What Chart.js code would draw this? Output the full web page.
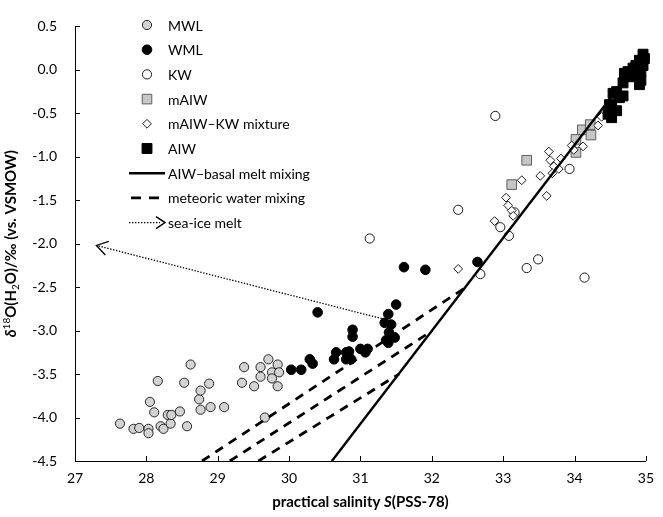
<!DOCTYPE html>
<html>
<head>
<meta charset="utf-8">
<script src="https://cdn.jsdelivr.net/npm/chart.js@4.4.0/dist/chart.umd.min.js"></script>
<style>
  html, body { margin: 0; padding: 0; background: #fff; }
  #wrap { width: 663px; height: 517px; }
</style>
</head>
<body>
<div id="wrap"><canvas id="chart" width="663" height="517"></canvas></div>
<script>
// [salinity, d18O] pairs
const MWL = [
  [27.63, -4.07], [27.82, -4.13], [27.90, -4.12], [28.03, -4.13], [28.03, -4.18],
  [28.05, -3.82], [28.11, -3.94], [28.16, -3.58], [28.20, -4.10], [28.24, -4.13],
  [28.30, -3.97], [28.34, -4.07], [28.35, -3.97], [28.47, -3.93], [28.53, -3.60],
  [28.57, -4.10], [28.62, -3.39], [28.74, -3.79], [28.76, -3.69], [28.76, -3.91],
  [28.88, -3.61], [28.90, -3.88], [29.09, -3.88], [29.34, -3.60], [29.37, -3.42],
  [29.51, -3.64], [29.60, -3.42], [29.60, -3.53], [29.66, -4.00], [29.71, -3.33],
  [29.76, -3.48], [29.76, -3.55], [29.84, -3.39], [29.86, -3.48], [29.84, -3.64]
];
const WML = [
  [30.03, -3.45], [30.17, -3.45], [30.29, -3.33], [30.33, -3.38], [30.40, -2.79],
  [30.63, -3.33], [30.66, -3.25], [30.80, -3.25], [30.84, -3.24], [30.80, -3.33],
  [30.87, -3.33], [30.83, -3.29], [31.00, -3.21], [31.10, -3.21], [31.07, -3.25],
  [30.89, -2.99], [30.89, -3.07], [31.34, -2.91], [31.43, -2.93], [31.40, -3.02],
  [31.42, -3.08], [31.36, -3.11], [31.39, -3.14], [31.48, -3.08], [31.39, -2.81],
  [31.50, -2.70], [31.61, -2.27], [31.91, -2.30], [32.64, -2.21]
];
const KW = [
  [31.13, -1.94], [32.37, -1.61], [32.89, -0.53], [32.68, -2.35], [32.96, -1.81],
  [33.08, -1.91], [33.16, -1.64], [33.33, -2.28], [33.49, -2.18], [34.14, -2.39],
  [33.93, -1.14]
];
const MAIW = [
  [33.12, -1.32], [33.33, -1.04], [34.02, -0.80], [34.02, -0.95], [34.11, -0.69],
  [34.22, -0.63], [34.23, -0.75]
];
const MAIW_KW = [
  [32.37, -2.29], [32.88, -1.74], [33.04, -1.47], [33.07, -1.56], [33.12, -1.62],
  [33.14, -1.68], [33.26, -1.27], [33.52, -1.22], [33.61, -1.45], [33.64, -0.94],
  [33.66, -1.04], [33.81, -1.02], [33.71, -1.11], [33.78, -1.14], [33.69, -1.19],
  [33.96, -0.87], [33.99, -0.92], [34.12, -0.88], [34.33, -0.64], [34.38, -0.54]
];
const AIW = [
  [34.47, -0.51], [34.52, -0.55], [34.49, -0.40], [34.52, -0.43], [34.59, -0.47],
  [34.54, -0.27], [34.59, -0.25], [34.63, -0.32], [34.68, -0.30], [34.68, -0.15],
  [34.70, -0.04], [34.75, -0.02], [34.77, -0.08], [34.82, 0.02], [34.84, -0.06],
  [34.86, 0.05], [34.89, -0.02], [34.91, 0.11], [34.93, -0.02], [34.91, -0.17],
  [34.93, -0.12], [34.96, 0.05], [34.96, 0.18], [34.98, 0.13]
];

// mixing lines
const BASAL_MELT_LINE = [[30.6, -4.5], [34.9, 0.1]];
const METEORIC_LINES = [
  [[28.78, -4.5], [32.48, -2.5]],
  [[29.17, -4.5], [32.01, -3.0]],
  [[29.57, -4.5], [31.54, -3.5]]
];
const SEA_ICE_ARROW = [[31.34, -2.87], [27.30, -2.02]];

const X_MIN = 27, X_MAX = 35, X_STEP = 1;
const Y_MIN = -4.5, Y_MAX = 0.5, Y_STEP = 0.5;

const LEGEND_LABELS = ['MWL', 'WML', 'KW', 'mAIW', 'mAIW\u2013KW mixture', 'AIW',
  'AIW\u2013basal melt mixing', 'meteoric water mixing', 'sea-ice melt'];

const FONT = "Lato, 'Open Sans', sans-serif";

const toXY = arr => arr.map(p => ({ x: p[0], y: p[1] }));

const STYLES = {
  MWL:  { shape: 'circle', radius: 4.6, fill: '#d3d3d3', stroke: '#262626' },
  WML:  { shape: 'circle', radius: 4.8, fill: '#000000', stroke: '#000000' },
  KW:   { shape: 'circle', radius: 4.6, fill: '#ffffff', stroke: '#1a1a1a' },
  MAIW: { shape: 'rect',   radius: 6.8, fill: '#c6c6c6', stroke: '#5e5e5e' },
  MIX:  { shape: 'rectRot', radius: 4.4, fill: '#ffffff', stroke: '#1a1a1a' },
  AIW:  { shape: 'rect',   radius: 7.0, fill: '#000000', stroke: '#000000' }
};

function pointSet(label, arr, st) {
  return {
    label: label,
    data: toXY(arr),
    pointStyle: st.shape,
    pointRadius: st.radius,
    pointHoverRadius: st.radius,
    pointBackgroundColor: st.fill,
    pointBorderColor: st.stroke,
    pointBorderWidth: 1,
    showLine: false,
    clip: false,
    order: 2
  };
}

function lineSet(label, arr, width, dash) {
  return {
    label: label,
    data: toXY(arr),
    showLine: true,
    pointRadius: 0,
    borderColor: '#000',
    borderWidth: width,
    borderDash: dash,
    fill: false,
    order: 1
  };
}

const datasets = [
  lineSet('AIW–basal melt mixing', BASAL_MELT_LINE, 2.4, []),
  ...METEORIC_LINES.map(l => lineSet('meteoric water mixing', l, 2.8, [9, 7])),
  lineSet('sea-ice melt', SEA_ICE_ARROW, 1.3, [1.4, 1.6]),
  pointSet('AIW', AIW, STYLES.AIW),
  pointSet('mAIW–KW mixture', MAIW_KW, STYLES.MIX),
  pointSet('mAIW', MAIW, STYLES.MAIW),
  pointSet('KW', KW, STYLES.KW),
  pointSet('WML', WML, STYLES.WML),
  pointSet('MWL', MWL, STYLES.MWL)
];

function drawMarker(ctx, st, x, y) {
  ctx.save();
  ctx.fillStyle = st.fill;
  ctx.strokeStyle = st.stroke;
  ctx.lineWidth = 1;
  ctx.beginPath();
  if (st.shape === 'circle') {
    ctx.arc(x, y, st.radius, 0, Math.PI * 2);
  } else if (st.shape === 'rect') {
    const h = st.radius * Math.SQRT1_2;
    ctx.rect(x - h, y - h, 2 * h, 2 * h);
  } else {
    const r = st.radius;
    ctx.moveTo(x, y - r); ctx.lineTo(x + r, y); ctx.lineTo(x, y + r); ctx.lineTo(x - r, y);
    ctx.closePath();
  }
  ctx.fill();
  ctx.stroke();
  ctx.restore();
}

function drawChevron(ctx, tipX, tipY, ux, uy, len, spread) {
  // ux, uy: unit vector pointing towards the tip
  const bx = tipX - ux * len, by = tipY - uy * len;
  const px = -uy * spread, py = ux * spread;
  ctx.beginPath();
  ctx.moveTo(bx + px, by + py);
  ctx.lineTo(tipX, tipY);
  ctx.lineTo(bx - px, by - py);
  ctx.stroke();
}

function drawRich(ctx, parts, cx, baseline) {
  let total = 0;
  parts.forEach(p => { ctx.font = p.font; p.w = ctx.measureText(p.t).width; total += p.w; });
  let x = cx - total / 2;
  parts.forEach(p => {
    ctx.font = p.font;
    ctx.fillText(p.t, x, baseline + (p.dy || 0));
    x += p.w;
  });
}

const overlay = {
  id: 'overlay',
  afterDatasetsDraw(chart) {
    const ctx = chart.ctx;
    const xs = chart.scales.x, ys = chart.scales.y;
    // sea-ice melt arrow head
    const a = SEA_ICE_ARROW[0], b = SEA_ICE_ARROW[1];
    const x0 = xs.getPixelForValue(a[0]), y0 = ys.getPixelForValue(a[1]);
    const x1 = xs.getPixelForValue(b[0]), y1 = ys.getPixelForValue(b[1]);
    const d = Math.hypot(x1 - x0, y1 - y0);
    ctx.save();
    ctx.strokeStyle = '#000';
    ctx.lineWidth = 1.3;
    drawChevron(ctx, x1, y1, (x1 - x0) / d, (y1 - y0) / d, 11, 7);
    ctx.restore();
  },
  afterDraw(chart) {
    const ctx = chart.ctx;
    const area = chart.chartArea;
    const xs = chart.scales.x, ys = chart.scales.y;

    // inward tick marks
    ctx.save();
    ctx.strokeStyle = '#000';
    ctx.lineWidth = 1;
    xs.ticks.forEach(t => {
      const x = Math.round(xs.getPixelForValue(t.value)) + 0.5;
      ctx.beginPath(); ctx.moveTo(x, area.bottom); ctx.lineTo(x, area.bottom - 5); ctx.stroke();
    });
    ys.ticks.forEach(t => {
      const y = Math.round(ys.getPixelForValue(t.value)) + 0.5;
      ctx.beginPath(); ctx.moveTo(area.left, y); ctx.lineTo(area.left + 5, y); ctx.stroke();
    });
    ctx.restore();

    // legend
    ctx.save();
    ctx.fillStyle = '#000';
    ctx.textBaseline = 'middle';
    ctx.font = '14px ' + FONT;
    const markers = [STYLES.MWL, STYLES.WML, STYLES.KW, STYLES.MAIW, STYLES.MIX, STYLES.AIW];
    LEGEND_LABELS.forEach((label, i) => {
      const y = 25 + i * 24.7;
      if (i < markers.length) {
        drawMarker(ctx, markers[i], 147, y);
      } else {
        ctx.save();
        ctx.strokeStyle = '#000';
        ctx.beginPath();
        if (i === 6) {
          ctx.lineWidth = 2.4;
          ctx.moveTo(129, y); ctx.lineTo(165, y); ctx.stroke();
        } else if (i === 7) {
          ctx.lineWidth = 2.8;
          ctx.setLineDash([10, 8]);
          ctx.moveTo(131, y); ctx.lineTo(160, y); ctx.stroke();
        } else {
          ctx.lineWidth = 1.3;
          ctx.setLineDash([1.4, 1.6]);
          ctx.moveTo(129, y); ctx.lineTo(160, y); ctx.stroke();
          ctx.setLineDash([]);
          ctx.lineWidth = 1.5;
          drawChevron(ctx, 165, y, 1, 0, 9, 6);
        }
        ctx.restore();
      }
      ctx.fillText(label, 168, y + 1);
    });
    ctx.restore();

    // axis titles
    ctx.save();
    ctx.fillStyle = '#000';
    ctx.textBaseline = 'alphabetic';
    const B = 'bold 15px ' + FONT;
    const BI = 'italic bold 15px ' + FONT;
    const SM = '10px ' + FONT;
    drawRich(ctx, [
      { t: 'practical salinity ', font: B },
      { t: 'S', font: BI },
      { t: '(PSS-78)', font: B }
    ], (area.left + area.right) / 2, 507);

    ctx.translate(16, (area.top + area.bottom) / 2);
    ctx.rotate(-Math.PI / 2);
    drawRich(ctx, [
      { t: '\u03b4', font: BI },
      { t: '18', font: SM, dy: -6 },
      { t: 'O(H', font: B },
      { t: '2', font: SM, dy: 3 },
      { t: 'O)/\u2030 (vs. VSMOW)', font: B }
    ], 0, 0);
    ctx.restore();
  }
};

const tickFont = { family: FONT, size: 14 };

new Chart(document.getElementById('chart'), {
  type: 'scatter',
  data: { datasets: datasets },
  options: {
    responsive: false,
    animation: false,
    devicePixelRatio: 1,
    events: [],
    layout: { padding: { top: 17, right: 11, bottom: 0, left: 0 } },
    plugins: { legend: { display: false }, tooltip: { enabled: false } },
    scales: {
      x: {
        type: 'linear',
        min: X_MIN, max: X_MAX,
        ticks: { stepSize: X_STEP, color: '#000', font: tickFont, padding: 9, maxRotation: 0 },
        grid: { display: false, drawTicks: false },
        border: { display: true, color: '#000', width: 1 },
        afterFit: s => { s.height = 56; }
      },
      y: {
        type: 'linear',
        min: Y_MIN, max: Y_MAX,
        ticks: { stepSize: Y_STEP, color: '#000', font: tickFont, padding: 18,
          callback: v => Number(v).toFixed(1) },
        grid: { display: false, drawTicks: false },
        border: { display: true, color: '#000', width: 1 },
        afterFit: s => { s.width = 75; }
      }
    }
  },
  plugins: [overlay]
});
</script>
</body>
</html>
